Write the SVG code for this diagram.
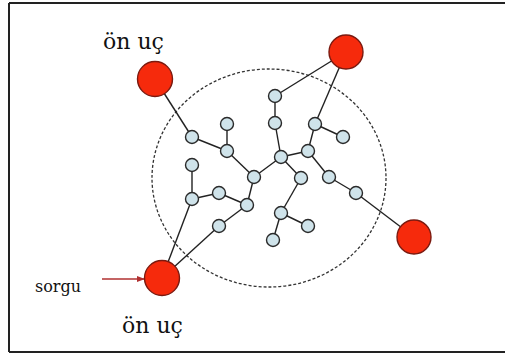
<svg xmlns="http://www.w3.org/2000/svg" width="505" height="356" viewBox="0 0 505 356">
<defs>
<style>
.e{stroke:#222;stroke-width:1.4;fill:none}
.b{fill:#cfe3ea;stroke:#2a2a2a;stroke-width:1.4}
.r{fill:#f62a0c;stroke:#7a1a10;stroke-width:1.4}
.t{fill:#111;font-family:"DejaVu Serif","Liberation Serif",serif}
</style>
<marker id="ah" markerWidth="8" markerHeight="6" refX="7" refY="3" orient="auto" markerUnits="userSpaceOnUse">
<path d="M0,0 L8,3 L0,6 Z" fill="#b03030"/>
</marker>
</defs>
<rect x="0" y="0" width="505" height="356" fill="#fff"/>
<path d="M9,3 H506 M9,352 H506 M9,3 V352" stroke="#222" stroke-width="2" fill="none"/>
<ellipse cx="269" cy="178" rx="117" ry="109" fill="none" stroke="#333" stroke-width="1.3" stroke-dasharray="3 2"/>
<g id="connectors">
<line class="e" x1="155" y1="79" x2="192" y2="137"/>
<line class="e" x1="192" y1="137" x2="227" y2="151"/>
<line class="e" x1="227" y1="124" x2="227" y2="151"/>
<line class="e" x1="227" y1="151" x2="254" y2="177"/>
<line class="e" x1="254" y1="177" x2="281" y2="157"/>
<line class="e" x1="281" y1="157" x2="275" y2="123"/>
<line class="e" x1="275" y1="123" x2="275" y2="96"/>
<line class="e" x1="275" y1="96" x2="346" y2="52"/>
<line class="e" x1="346" y1="52" x2="315" y2="124"/>
<line class="e" x1="315" y1="124" x2="343" y2="137"/>
<line class="e" x1="315" y1="124" x2="308" y2="151"/>
<line class="e" x1="308" y1="151" x2="281" y2="157"/>
<line class="e" x1="281" y1="157" x2="301" y2="178"/>
<line class="e" x1="301" y1="178" x2="281" y2="213"/>
<line class="e" x1="281" y1="213" x2="308" y2="226"/>
<line class="e" x1="281" y1="213" x2="273" y2="240"/>
<line class="e" x1="308" y1="151" x2="329" y2="177"/>
<line class="e" x1="329" y1="177" x2="356" y2="193"/>
<line class="e" x1="356" y1="193" x2="414" y2="237"/>
<line class="e" x1="254" y1="177" x2="247" y2="205"/>
<line class="e" x1="247" y1="205" x2="219" y2="193"/>
<line class="e" x1="219" y1="193" x2="192" y2="199"/>
<line class="e" x1="192" y1="199" x2="192" y2="165"/>
<line class="e" x1="192" y1="199" x2="162" y2="278"/>
<line class="e" x1="247" y1="205" x2="219" y2="226"/>
<line class="e" x1="219" y1="226" x2="162" y2="278"/>
<line x1="102" y1="279" x2="144" y2="279" stroke="#b03030" stroke-width="1.3" marker-end="url(#ah)"/>
</g>
<g id="n1"><circle class="b" cx="192" cy="137" r="6.5"/></g>
<g id="n2"><circle class="b" cx="227" cy="151" r="6.5"/></g>
<g id="n3"><circle class="b" cx="227" cy="124" r="6.5"/></g>
<g id="n4"><circle class="b" cx="192" cy="165" r="6.5"/></g>
<g id="n5"><circle class="b" cx="254" cy="177" r="6.5"/></g>
<g id="n6"><circle class="b" cx="275" cy="96" r="6.5"/></g>
<g id="n7"><circle class="b" cx="275" cy="123" r="6.5"/></g>
<g id="n8"><circle class="b" cx="315" cy="124" r="6.5"/></g>
<g id="n9"><circle class="b" cx="343" cy="137" r="6.5"/></g>
<g id="n10"><circle class="b" cx="308" cy="151" r="6.5"/></g>
<g id="n11"><circle class="b" cx="281" cy="157" r="6.5"/></g>
<g id="n12"><circle class="b" cx="301" cy="178" r="6.5"/></g>
<g id="n13"><circle class="b" cx="329" cy="177" r="6.5"/></g>
<g id="n14"><circle class="b" cx="356" cy="193" r="6.5"/></g>
<g id="n15"><circle class="b" cx="192" cy="199" r="6.5"/></g>
<g id="n16"><circle class="b" cx="219" cy="193" r="6.5"/></g>
<g id="n17"><circle class="b" cx="247" cy="205" r="6.5"/></g>
<g id="n18"><circle class="b" cx="219" cy="226" r="6.5"/></g>
<g id="n19"><circle class="b" cx="281" cy="213" r="6.5"/></g>
<g id="n20"><circle class="b" cx="308" cy="226" r="6.5"/></g>
<g id="n21"><circle class="b" cx="273" cy="240" r="6.5"/></g>
<g id="front1"><circle class="r" cx="155" cy="79" r="17.5"/><text class="t" x="103" y="49" font-size="22">ön uç</text></g>
<g id="front2"><circle class="r" cx="346" cy="52" r="17"/></g>
<g id="front3"><circle class="r" cx="162" cy="278" r="17.5"/><text class="t" x="122" y="333" font-size="22">ön uç</text></g>
<g id="front4"><circle class="r" cx="414" cy="237" r="17"/></g>
<g id="query"><text class="t" x="35" y="292" font-size="16">sorgu</text></g>
</svg>
